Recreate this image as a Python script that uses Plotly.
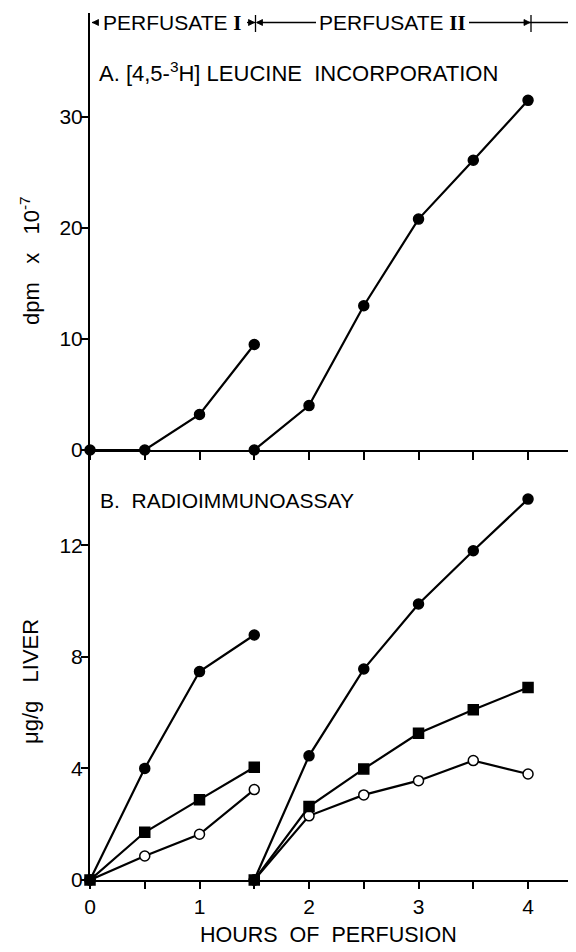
import plotly.graph_objects as go

# ---------------- data ----------------
hours_I = [0, 0.5, 1, 1.5]
hours_II = [1.5, 2, 2.5, 3, 3.5, 4]

leucine_I = [0, 0, 3.2, 9.5]
leucine_II = [0, 4.0, 13.0, 20.8, 26.1, 31.5]

ria_filled_I = [0, 4.0, 7.47, 8.78]
ria_filled_II = [0, 4.45, 7.56, 9.89, 11.8, 13.65]
ria_square_I = [0, 1.71, 2.88, 4.04]
ria_square_II = [0, 2.63, 3.98, 5.26, 6.1, 6.9]
ria_open_I = [0, 0.86, 1.64, 3.24]
ria_open_II = [0, 2.3, 3.05, 3.56, 4.28, 3.8]

x_tickvals = [0, 1, 2, 3, 4]
yA_tickvals = [0, 10, 20, 30]
yB_tickvals = [0, 4, 8, 12]

FONT = "Liberation Sans, Arial, sans-serif"
BLACK = "black"

fig = go.Figure()

def add_series(x, y, xa, ya, symbol, fill):
    fig.add_trace(go.Scatter(
        x=x, y=y, xaxis=xa, yaxis=ya, mode="lines+markers",
        line=dict(color=BLACK, width=2.2),
        marker=dict(symbol=symbol, size=10, color=fill,
                    line=dict(color=BLACK, width=1.5)),
        cliponaxis=False, hoverinfo="skip", showlegend=False))

# Panel A
add_series(hours_I, leucine_I, "x2", "y2", "circle", BLACK)
add_series(hours_II, leucine_II, "x2", "y2", "circle", BLACK)

# Panel B
add_series(hours_I, ria_open_I, "x", "y", "circle", "white")
add_series(hours_II, ria_open_II, "x", "y", "circle", "white")
add_series(hours_I, ria_filled_I, "x", "y", "circle", BLACK)
add_series(hours_II, ria_filled_II, "x", "y", "circle", BLACK)
add_series(hours_I, ria_square_I, "x", "y", "square", BLACK)
add_series(hours_II, ria_square_II, "x", "y", "square", BLACK)

axis_common = dict(showline=True, linecolor=BLACK, linewidth=2, showgrid=False,
                   zeroline=False, ticks="outside", tickcolor=BLACK, tickwidth=1.5,
                   automargin=False,
                   tickfont=dict(family=FONT, size=21, color=BLACK))
minor_x = dict(dtick=0.5, ticks="outside", ticklen=7, tickwidth=1.5, tickcolor=BLACK,
               showgrid=False)

# page is offset by the browser's 8px body margin: figure coords = page coords - 8
FIG_W, FIG_H = 568, 944
L, B = 82, 72
PLOT_W = FIG_W - L          # 486
PLOT_H = FIG_H - B          # 872

def PX(px):   # page pixel x -> paper
    return (px - 90) / PLOT_W

def PY(py):   # page pixel y -> paper
    return (880 - py) / PLOT_H

X_MAX = 4.438
split = PY(450)
fig.update_layout(
    width=FIG_W, height=FIG_H,
    margin=dict(l=L, r=0, t=0, b=B, pad=0),
    paper_bgcolor="white", plot_bgcolor="white",
    xaxis=dict(axis_common, range=[0, X_MAX], anchor="y", domain=[0, 1],
               tickvals=x_tickvals, ticklen=7, minor=minor_x),
    xaxis2=dict(axis_common, range=[0, X_MAX], anchor="y2", domain=[0, 1],
                tickvals=x_tickvals, showticklabels=False, ticklen=8, matches="x",
                minor=dict(minor_x, ticklen=8)),
    yaxis=dict(axis_common, range=[0, 15.41], domain=[0, split], anchor="x",
               tickvals=yB_tickvals, ticklen=7, ticklabelstandoff=-6),
    yaxis2=dict(axis_common, range=[0, 39.37], domain=[split, PY(13)], anchor="x2",
                tickvals=yA_tickvals, ticklen=7, ticklabelstandoff=-6),
)

def txt(text, px, py, size, angle=0, xanchor="center"):
    return dict(text=text, xref="paper", yref="paper", x=PX(px), y=PY(py),
                xanchor=xanchor, yanchor="middle", textangle=angle, showarrow=False,
                font=dict(family=FONT, size=size, color=BLACK))

NB = "\u00a0"
ann = [
    txt("dpm" + NB * 3 + "x" + NB * 3 + "10<sup>-7</sup>", 30, 261, 22, angle=-90),
    txt("\u03bcg/g" + NB * 3 + "LIVER", 30, 682, 22, angle=-90),
    txt("HOURS" + NB * 2 + "OF" + NB * 2 + "PERFUSION", 328, 935, 21.5),
    txt("A." + NB + "[4,5-<sup>3</sup>H]" + NB + "LEUCINE" + NB * 2 + "INCORPORATION", 97, 72, 22, xanchor="left"),
    txt("B." + NB * 2 + "RADIOIMMUNOASSAY", 98, 500, 21, xanchor="left"),
]
HYP = 22.5
ann.append(txt("PERFUSATE" + NB + "<span style=\"font-family:'Liberation Serif'\"><b>I</b></span>",
               171.5, HYP, 21))
ann.append(txt("PERFUSATE" + NB + "<span style=\"font-family:'Liberation Serif'\"><b>II</b></span>",
               392.5, HYP, 21))
fig.update_layout(annotations=ann)

shapes = []
line_style = dict(type="line", xref="paper", yref="paper", line=dict(color=BLACK, width=1.3))
shapes.append(dict(line_style, x0=PX(257), x1=PX(316), y0=PY(HYP), y1=PY(HYP)))
shapes.append(dict(line_style, x0=PX(469), x1=PX(576), y0=PY(HYP), y1=PY(HYP)))
for px in [255.5, 531]:
    shapes.append(dict(line_style, x0=PX(px), x1=PX(px), y0=PY(15), y1=PY(32)))

def arrowhead(tip_px, direction):
    back = tip_px - direction * 6
    path = "M {:.5f},{:.5f} L {:.5f},{:.5f} L {:.5f},{:.5f} Z".format(
        PX(tip_px), PY(HYP), PX(back), PY(HYP - 3), PX(back), PY(HYP + 3))
    return dict(type="path", xref="paper", yref="paper", path=path,
                fillcolor=BLACK, line=dict(color=BLACK, width=0.8))

shapes.append(arrowhead(92.5, -1))
shapes.append(arrowhead(254.5, +1))
shapes.append(arrowhead(256.5, -1))
shapes.append(arrowhead(530, +1))
shapes.append(dict(line_style, x0=PX(92), x1=PX(98), y0=PY(HYP), y1=PY(HYP)))
shapes.append(dict(line_style, x0=PX(247), x1=PX(255), y0=PY(HYP), y1=PY(HYP)))
fig.update_layout(shapes=shapes)

fig.write_html("out.html")
